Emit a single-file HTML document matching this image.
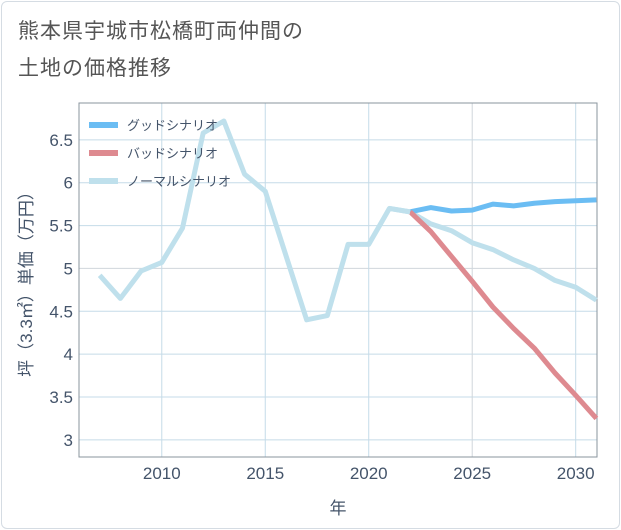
<!DOCTYPE html>
<html><head><meta charset="utf-8"><style>
body{margin:0;background:#fff;}
#card{position:absolute;left:1px;top:1px;width:617px;height:526px;border:1px solid #d5dce3;border-radius:6px;background:#fff;}
#title{position:absolute;left:18px;top:13px;font:21px "Liberation Sans","Noto Sans CJK JP",sans-serif;color:#555;line-height:37px;letter-spacing:1px;}
</style></head><body>
<div id="card"></div>
<div id="title">熊本県宇城市松橋町両仲間の<br>土地の価格推移</div>
<svg id="chart" width="621" height="530" style="position:absolute;left:0;top:0"></svg>
<script>
const years=[2007,2008,2009,2010,2011,2012,2013,2014,2015,2016,2017,2018,2019,2020,2021,2022,2023,2024,2025,2026,2027,2028,2029,2030,2031];
const normalValues=[4.92,4.65,4.97,5.07,5.47,6.58,6.72,6.1,5.9,5.15,4.4,4.45,5.28,5.28,5.7,5.66,5.52,5.44,5.3,5.22,5.1,5.0,4.86,4.78,4.63];
const futureYears=[2022,2023,2024,2025,2026,2027,2028,2029,2030,2031];
const goodValues=[5.66,5.71,5.67,5.68,5.75,5.73,5.76,5.78,5.79,5.8];
const badValues=[5.66,5.43,5.14,4.85,4.55,4.3,4.07,3.78,3.52,3.25];
const xTicks=[2010,2015,2020,2025,2030];
const yTicks=[3,3.5,4,4.5,5,5.5,6,6.5];
const yTickLabels=["3","3.5","4","4.5","5","5.5","6","6.5"];
const L=79,R=597,T=103,B=457,X0=2006,X1=2031.03,Y0=2.8,Y1=6.93;
const x=v=>L+(v-X0)/(X1-X0)*(R-L);
const y=v=>B-(v-Y0)/(Y1-Y0)*(B-T);
const svg=document.getElementById('chart');
const NS='http://www.w3.org/2000/svg';
function mk(tag,attrs,parent){const e=document.createElementNS(NS,tag);for(const k in attrs)e.setAttribute(k,attrs[k]);(parent||svg).appendChild(e);return e;}
const F='"Liberation Sans","Noto Sans CJK JP",sans-serif';
yTicks.forEach((v,i)=>{
 const g=mk('line',{x1:L,x2:R,y1:y(v),y2:y(v),stroke:v===5?'#d0d6dc':'#c5dbe8','stroke-width':1});
 
 
 const t=mk('text',{x:L-6,y:y(v)+6,'text-anchor':'end','font-size':17,fill:'#44546a','font-family':F});
 t.textContent=yTickLabels[i];
 
 
});
xTicks.forEach(v=>{
 const g=mk('line',{x1:x(v),x2:x(v),y1:T,y2:B,stroke:v===2025?'#d0d6dc':'#c5dbe8','stroke-width':1});
 
 
 const t=mk('text',{x:x(v),y:B+22,'text-anchor':'middle','font-size':17,fill:'#44546a','font-family':F});
 t.textContent=String(v);
 
 
});
const frame=mk('rect',{x:L,y:T,width:R-L,height:B-T,fill:'none',stroke:'#8a949e','stroke-width':1});


function line(xs,vs,color,name){
 const p=mk('polyline',{points:xs.map((a,i)=>x(a)+','+y(vs[i])).join(' '),fill:'none',stroke:color,'stroke-width':5,'stroke-linejoin':'round'});
 
 
}
line(years,normalValues,'#bfe0ec','normal-scenario-line');
line(futureYears,goodValues,'#6bbdf3','good-scenario-line');
line(futureYears,badValues,'#de8a90','bad-scenario-line');
line(years.slice(14,16),normalValues.slice(14,16),'#bfe0ec','normal-scenario-join');
const leg=[['グッドシナリオ','#6bbdf3'],['バッドシナリオ','#de8a90'],['ノーマルシナリオ','#bfe0ec']];
leg.forEach((d,i)=>{
 const yy=125+i*28;
 const s=mk('line',{x1:89,x2:118,y1:yy,y2:yy,stroke:d[1],'stroke-width':6});
 
 
 const t=mk('text',{x:127,y:yy+5,'font-size':13,fill:'#44546a','font-family':F});
 t.textContent=d[0];
 
 
});
const xt=mk('text',{x:(L+R)/2,y:514,'text-anchor':'middle','font-size':17,fill:'#44546a','font-family':F});
xt.textContent='年';


const yt=mk('text',{x:0,y:0,'text-anchor':'middle','font-size':17,fill:'#44546a','font-family':F,transform:'translate(32,'+((T+B)/2)+') rotate(-90)'});
yt.textContent='坪（3.3㎡）単価（万円）';


</script>
</body></html>
